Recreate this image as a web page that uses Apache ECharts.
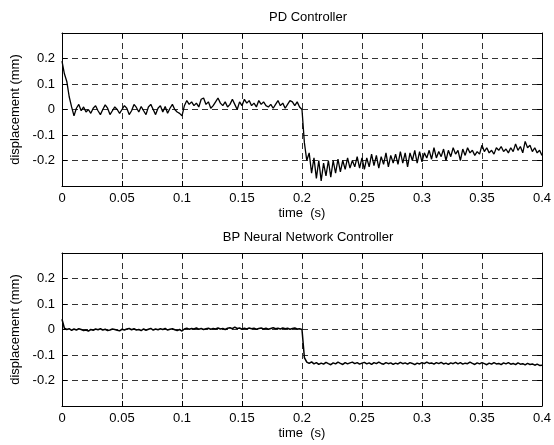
<!DOCTYPE html>
<html>
<head>
<meta charset="utf-8">
<script src="https://cdn.jsdelivr.net/npm/echarts@6/dist/echarts.min.js"></script>
<style>
html,body{margin:0;padding:0;background:#fff;}
#chart{width:554px;height:445px;}
</style>
</head>
<body>
<div id="chart"></div>
<script>
// ---- data ----
const titles = ['PD Controller', 'BP Neural Network Controller'];
const xAxisLabel = 'time  (s)';
const yAxisLabel = 'displacement (mm)';
const sampleStep = 0.002; // seconds between samples, starting at t = 0
const xTicks = [0, 0.05, 0.1, 0.15, 0.2, 0.25, 0.3, 0.35, 0.4];
const yTicks = [-0.2, -0.1, 0, 0.1, 0.2];

const pdDisplacement = [
  0.19, 0.14, 0.11, 0.05, 0.01, -0.025, 0.005, 0.02, -0.005, 0.01,
  -0.01, 0.0, -0.015, 0.005, 0.015, -0.005, -0.02, 0.0, 0.018, 0.005,
  -0.02, -0.005, 0.01, 0.0, -0.015, 0.0, 0.015, 0.005, -0.02, -0.005,
  0.02, 0.008, -0.01, 0.012, -0.005, -0.02, 0.01, 0.02, 0.0, -0.02,
  0.005, 0.015, -0.01, 0.012, -0.015, 0.005, 0.02, 0.0, -0.01, -0.015,
  -0.025, 0.015, 0.035, 0.02, 0.03, 0.015, 0.025, 0.01, 0.04, 0.045,
  0.02, 0.03, 0.005, 0.015, 0.03, 0.045, 0.025, 0.015, 0.03, 0.01,
  0.02, 0.04, 0.02, 0.0, 0.03, 0.015, 0.04, 0.025, 0.035, 0.015,
  0.025, 0.01, 0.035, 0.02, 0.03, 0.015, 0.01, 0.02, 0.005, 0.02,
  0.035, 0.015, 0.025, 0.005, 0.02, 0.035, 0.03, 0.015, 0.03, 0.01,
  0.0, -0.13, -0.2, -0.17, -0.25, -0.19, -0.27, -0.2, -0.28, -0.21,
  -0.26, -0.2, -0.265, -0.2, -0.25, -0.195, -0.245, -0.2, -0.235, -0.19,
  -0.23, -0.2, -0.225, -0.185, -0.23, -0.19, -0.235, -0.19, -0.225, -0.175,
  -0.22, -0.18, -0.23, -0.185, -0.215, -0.17, -0.225, -0.18, -0.21, -0.175,
  -0.215, -0.165, -0.21, -0.17, -0.225, -0.17, -0.2, -0.16, -0.21, -0.165,
  -0.205, -0.17, -0.19, -0.16, -0.195, -0.15, -0.19, -0.165, -0.185, -0.155,
  -0.2, -0.16, -0.185, -0.15, -0.175, -0.16, -0.2, -0.155, -0.18, -0.15,
  -0.17, -0.16, -0.18, -0.165, -0.175, -0.14, -0.165, -0.15, -0.17, -0.16,
  -0.175, -0.15, -0.16, -0.145, -0.165, -0.155, -0.17, -0.15, -0.165, -0.135,
  -0.16, -0.145, -0.17, -0.125, -0.15, -0.14, -0.165, -0.15, -0.17, -0.16,
  -0.18
];

const bpDisplacement = [
  0.04, 0.005, 0.0, 0.003, -0.003, 0.002, -0.002, 0.003, 0.0, -0.004,
  -0.002, -0.006, 0.0, -0.003, 0.002, -0.001, 0.003, -0.002, 0.001, -0.004,
  -0.002, 0.002, 0.0, -0.003, -0.005, 0.001, -0.002, 0.002, 0.004, -0.001,
  0.003, -0.002, 0.0, -0.004, 0.002, -0.003, 0.001, 0.004, -0.002, 0.002,
  -0.001, 0.003, 0.0, 0.004, -0.002, 0.001, 0.003, -0.001, -0.004, 0.0,
  -0.006, 0.002, 0.005, 0.001, 0.004, 0.002, 0.006, 0.001, 0.004, 0.0,
  0.003, 0.005, 0.001, 0.004, 0.002, 0.006, 0.002, 0.004, 0.0, 0.005,
  0.007, 0.003, 0.009, 0.004, 0.006, 0.001, 0.005, 0.002, 0.006, 0.003,
  0.005, 0.001, 0.004, 0.006, 0.002, 0.005, 0.001, 0.004, 0.007, 0.003,
  0.005, 0.002, 0.006, 0.003, 0.005, 0.001, 0.004, 0.006, 0.002, 0.003,
  0.0, -0.11, -0.128, -0.133, -0.127, -0.135, -0.13, -0.137, -0.132, -0.136,
  -0.129, -0.134, -0.138, -0.131, -0.135, -0.128, -0.133, -0.137, -0.13, -0.135,
  -0.131, -0.128, -0.134, -0.13, -0.136, -0.132, -0.129, -0.135, -0.131, -0.137,
  -0.13, -0.134, -0.128, -0.133, -0.136, -0.13, -0.134, -0.131, -0.137, -0.132,
  -0.135, -0.129, -0.134, -0.131, -0.136, -0.13, -0.133, -0.138, -0.132, -0.135,
  -0.13, -0.134, -0.128, -0.133, -0.131, -0.136, -0.13, -0.134, -0.129, -0.135,
  -0.132, -0.137, -0.131, -0.134, -0.129, -0.135, -0.13, -0.136, -0.132, -0.134,
  -0.128, -0.133, -0.137, -0.131, -0.135, -0.13, -0.134, -0.138, -0.132, -0.136,
  -0.13, -0.135, -0.133, -0.138, -0.131, -0.135, -0.13, -0.136, -0.133, -0.138,
  -0.131, -0.136, -0.134, -0.139, -0.133, -0.137, -0.135, -0.14, -0.136, -0.141,
  -0.14
];

// ---- chart ----
const FONT = '"Liberation Sans", Arial, sans-serif';
const FS = 13;
const GRID_COLOR = '#333333';

function pairs(vals) { return vals.map((v, i) => [i * sampleStep, v]); }

const grids = [
  { left: 62, top: 33, width: 482, height: 153 },
  { left: 62, top: 253, width: 482, height: 153 }
];

const xMin = xTicks[0], xMax = xTicks[xTicks.length - 1];
const xInt = xTicks[1] - xTicks[0];
const yInt = yTicks[1] - yTicks[0];
const yMin = -0.3, yMax = 0.3;

const xAxes = [], yAxes = [];
grids.forEach((g, gi) => {
  xAxes.push({
    type: 'value', gridIndex: gi, position: 'bottom', min: xMin, max: xMax, interval: xInt,
    name: xAxisLabel, nameLocation: 'middle', nameGap: 21,
    nameTextStyle: { color: '#000', fontFamily: FONT, fontSize: FS },
    axisLine: { show: true, onZero: false, lineStyle: { color: '#000', width: 1 } },
    axisTick: { show: true, inside: true, length: 5, lineStyle: { color: '#000' } },
    axisLabel: { color: '#000', fontFamily: FONT, fontSize: FS, margin: 6,
      formatter: v => String(+v.toFixed(3)) },
    splitLine: { show: true, showMinLine: false, showMaxLine: false,
      lineStyle: { color: GRID_COLOR, type: [6, 4], width: 1 } }
  });
  xAxes.push({
    type: 'value', gridIndex: gi, position: 'top', min: xMin, max: xMax, interval: xInt,
    axisLine: { show: true, onZero: false, lineStyle: { color: '#000', width: 1 } },
    axisTick: { show: true, inside: true, length: 5, lineStyle: { color: '#000' } },
    axisLabel: { show: false }, splitLine: { show: false }
  });
  yAxes.push({
    type: 'value', gridIndex: gi, position: 'left', min: yMin, max: yMax, interval: yInt,
    name: yAxisLabel, nameLocation: 'middle', nameGap: 35, nameRotate: 90,
    nameTextStyle: { color: '#000', fontFamily: FONT, fontSize: FS },
    axisLine: { show: true, onZero: false, lineStyle: { color: '#000', width: 1 } },
    axisTick: { show: true, inside: true, length: 5, lineStyle: { color: '#000' } },
    axisLabel: { color: '#000', fontFamily: FONT, fontSize: FS, margin: 7,
      formatter: v => (Math.abs(v) > 0.25 ? '' : String(+v.toFixed(2))) },
    splitLine: { show: true, showMinLine: false, showMaxLine: false,
      lineStyle: { color: GRID_COLOR, type: [6, 4], width: 1 } }
  });
  yAxes.push({
    type: 'value', gridIndex: gi, position: 'right', min: yMin, max: yMax, interval: yInt,
    axisLine: { show: true, onZero: false, lineStyle: { color: '#000', width: 1 } },
    axisTick: { show: true, inside: true, length: 5, lineStyle: { color: '#000' } },
    axisLabel: { show: false }, splitLine: { show: false }
  });
});

const option = {
  animation: false,
  backgroundColor: '#fff',
  title: titles.map((t, i) => ({
    text: t, left: grids[i].left + grids[i].width / 2, textAlign: 'center',
    top: grids[i].top - 27,
    textStyle: { color: '#000', fontFamily: FONT, fontSize: FS, fontWeight: 'normal' }
  })),
  grid: grids,
  xAxis: xAxes,
  yAxis: yAxes,
  series: [
    { type: 'line', xAxisIndex: 0, yAxisIndex: 0, data: pairs(pdDisplacement),
      showSymbol: false, lineStyle: { color: '#000', width: 1.3 }, z: 5 },
    { type: 'line', xAxisIndex: 2, yAxisIndex: 2, data: pairs(bpDisplacement),
      showSymbol: false, lineStyle: { color: '#000', width: 1.5 }, z: 5 }
  ]
};

const chart = echarts.init(document.getElementById('chart'));
chart.setOption(option);
</script>
</body>
</html>
